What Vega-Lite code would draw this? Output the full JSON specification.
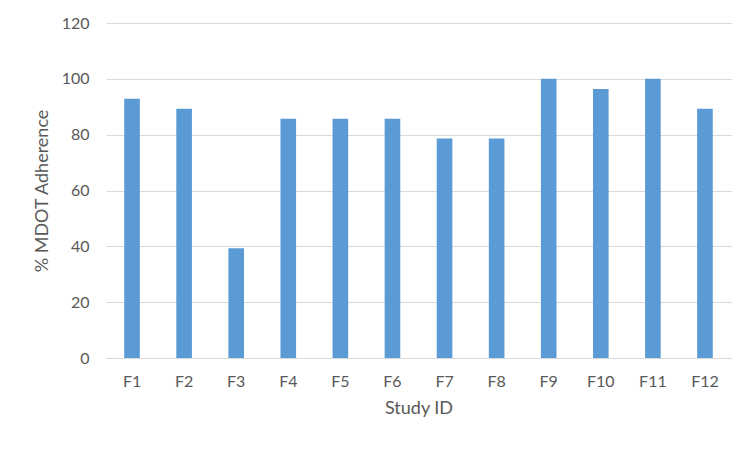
{
  "$schema": "https://vega.github.io/schema/vega-lite/v6.json",
  "autosize": {"type": "none"},
  "width": 625,
  "height": 335,
  "padding": {"left": 106, "top": 23, "right": 21, "bottom": 94},
  "background": "white",
  "data": {"values": [
    {"study": "F1", "adherence": 92.9},
    {"study": "F2", "adherence": 89.3},
    {"study": "F3", "adherence": 39.3},
    {"study": "F4", "adherence": 85.7},
    {"study": "F5", "adherence": 85.7},
    {"study": "F6", "adherence": 85.7},
    {"study": "F7", "adherence": 78.6},
    {"study": "F8", "adherence": 78.6},
    {"study": "F9", "adherence": 100},
    {"study": "F10", "adherence": 96.4},
    {"study": "F11", "adherence": 100},
    {"study": "F12", "adherence": 89.3}
  ]},
  "mark": {"type": "bar", "color": "#5B9BD5"},
  "encoding": {
    "x": {
      "field": "study", "type": "nominal", "sort": null,
      "scale": {"paddingInner": 0.7, "paddingOuter": 0.35},
      "axis": {"title": "Study ID", "labelAngle": 0, "tickSize": 0, "labelPadding": 15, "titlePadding": 10, "domainColor": "#D9D9D9"}
    },
    "y": {
      "field": "adherence", "type": "quantitative",
      "scale": {"domain": [0, 120]},
      "axis": {"title": "% MDOT Adherence", "values": [0, 20, 40, 60, 80, 100, 120], "tickSize": 0, "domain": false, "labelPadding": 17, "titlePadding": 10, "gridColor": "#D9D9D9"}
    }
  },
  "config": {
    "view": {"stroke": null},
    "font": "Lato",
    "axis": {"labelFont": "Lato", "titleFont": "Lato", "labelFontSize": 16, "titleFontSize": 18, "labelColor": "#595959", "titleColor": "#595959", "titleFontWeight": "normal"}
  }
}
